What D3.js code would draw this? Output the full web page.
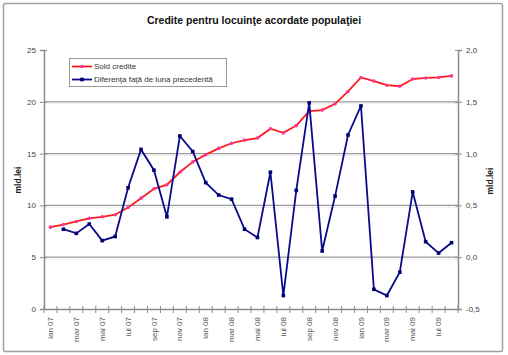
<!DOCTYPE html>
<html><head><meta charset="utf-8">
<script src="https://cdn.jsdelivr.net/npm/d3@7"></script>
<style>
html,body{margin:0;padding:0;background:#fff;}
svg{display:block;font-family:"Liberation Sans",Arial,sans-serif;}
</style></head>
<body>
<svg id="chart" width="508" height="355"></svg>
<script>
const title = "Credite pentru locuinţe acordate populaţiei";
const categories = ["ian 07","feb 07","mar 07","apr 07","mai 07","iun 07","iul 07","aug 07","sep 07","oct 07","nov 07","dec 07",
  "ian 08","feb 08","mar 08","apr 08","mai 08","iun 08","iul 08","aug 08","sep 08","oct 08","nov 08","dec 08",
  "ian 09","feb 09","mar 09","apr 09","mai 09","iun 09","iul 09","aug 09"];
const tickLabels = ["ian 07","mar 07","mai 07","iul 07","sep 07","nov 07","ian 08","mar 08","mai 08","iul 08","sep 08","nov 08","ian 09","mar 09","mai 09","iul 09"];
const soldCredite = [7.9,8.15,8.45,8.75,8.9,9.1,9.8,10.7,11.6,12.0,13.2,14.2,14.9,15.5,16.0,16.3,16.5,17.4,17.0,17.7,19.1,19.2,19.8,21.0,22.35,22.0,21.6,21.5,22.2,22.3,22.35,22.5];
const diferenta = [null,0.27,0.23,0.32,0.16,0.20,0.67,1.04,0.84,0.39,1.17,1.02,0.72,0.60,0.56,0.27,0.19,0.82,-0.37,0.645,1.49,0.06,0.59,1.18,1.46,-0.31,-0.37,-0.145,0.63,0.15,0.04,0.14];
const leftTicks = [0,5,10,15,20,25];
const rightTicks = [-0.5,0,0.5,1.0,1.5,2.0];
const seriesNames = ["Sold credite","Diferenţa faţă de luna precedentă"];
const axisTitle = "mld.lei";

const svg = d3.select("#chart");
const L = 44, R = 458, T = 50, B = 309;
const grey = "#8c8c8c";

// outer frame
svg.append("rect").attr("x",3.5).attr("y",3.5).attr("width",499).attr("height",348)
  .attr("rx",2).attr("fill","#fff").attr("stroke","#a0a0a0").attr("stroke-width",1.5);

svg.append("text").attr("x",254).attr("y",24).attr("text-anchor","middle")
  .attr("font-size",10.5).attr("font-weight","bold").attr("fill","#111").text(title);

const x = d3.scaleBand().domain(categories).range([L,R]).padding(0);
const yL = d3.scaleLinear().domain([0,25]).range([B,T]);
const yR = d3.scaleLinear().domain([-0.5,2.0]).range([B,T]);

// gridlines
svg.append("g").selectAll("line").data(leftTicks.filter(d=>d>0 && d<25)).join("line")
  .attr("x1",L).attr("x2",R).attr("y1",d=>yL(d)).attr("y2",d=>yL(d))
  .attr("stroke","#9a9a9a").attr("stroke-width",1.2);
svg.append("g").selectAll("line").data(leftTicks.filter(d=>d>0 && d<25)).join("line")
  .attr("x1",L).attr("x2",R).attr("y1",d=>yL(d)+2).attr("y2",d=>yL(d)+2)
  .attr("stroke","#dcdcdc").attr("stroke-width",1).attr("stroke-dasharray","1,1");

// left axis
const gl = svg.append("g").attr("transform",`translate(${L},0)`)
  .call(d3.axisLeft(yL).tickValues(leftTicks).tickSize(4).tickPadding(4));
gl.select(".domain").attr("stroke",grey).attr("stroke-width",1.5);
gl.selectAll(".tick line").attr("x1",3).attr("x2",-4).attr("stroke",grey);
gl.selectAll(".tick text").attr("font-size",8).attr("fill","#444").attr("font-family","Liberation Sans, Arial, sans-serif");

// right axis
const gr = svg.append("g").attr("transform",`translate(${R},0)`)
  .call(d3.axisRight(yR).tickValues(rightTicks).tickSize(4).tickPadding(4)
    .tickFormat(d=>d3.format(".1f")(d).replace(".",",").replace("−","-")));
gr.select(".domain").attr("stroke",grey).attr("stroke-width",1.5);
gr.selectAll(".tick line").attr("x1",-3).attr("x2",4).attr("stroke",grey);
gr.selectAll(".tick text").attr("font-size",8).attr("fill","#444").attr("font-family","Liberation Sans, Arial, sans-serif");

// bottom axis
const gb = svg.append("g").attr("transform",`translate(0,${B})`)
  .call(d3.axisBottom(x).tickValues(tickLabels).tickSize(0).tickPadding(0));
gb.select(".domain").attr("stroke",grey).attr("stroke-width",1.5);
gb.selectAll(".tick text").attr("font-size",8).attr("fill","#555")
  .attr("font-family","Liberation Sans, Arial, sans-serif")
  .attr("transform","translate(0,8) rotate(-90)").attr("text-anchor","end")
  .attr("dy","0.32em").attr("x",0).attr("y",0);
const bounds = categories.map(c=>x(c)).concat([x.range()[1]]);
svg.append("g").selectAll("line").data(bounds).join("line")
  .attr("x1",d=>d).attr("x2",d=>d).attr("y1",B-3).attr("y2",B+4)
  .attr("stroke",grey).attr("stroke-width",1);

// axis titles
svg.append("text").attr("transform",`translate(21,180) rotate(-90)`).attr("text-anchor","middle")
  .attr("font-size",8.5).attr("font-weight","bold").attr("fill","#222").text(axisTitle);
svg.append("text").attr("transform",`translate(493,181) rotate(-90)`).attr("text-anchor","middle")
  .attr("font-size",8.5).attr("font-weight","bold").attr("fill","#222").text(axisTitle);

const cx = c => x(c) + x.bandwidth()/2;

// red series
const redData = categories.map((c,i)=>({c, v: soldCredite[i]}));
svg.append("path").datum(redData)
  .attr("d", d3.line().x(d=>cx(d.c)).y(d=>yL(d.v)))
  .attr("fill","none").attr("stroke","#ff1a1a").attr("stroke-width",1.8);
svg.append("g").selectAll("circle").data(redData).join("circle")
  .attr("cx",d=>cx(d.c)).attr("cy",d=>yL(d.v)).attr("r",1.8).attr("fill","#ff3399");

// blue series
const blueData = categories.map((c,i)=>({c, v: diferenta[i]})).filter(d=>d.v!==null);
svg.append("path").datum(blueData)
  .attr("d", d3.line().x(d=>cx(d.c)).y(d=>yR(d.v)))
  .attr("fill","none").attr("stroke","#0a0a8c").attr("stroke-width",1.8);
svg.append("g").selectAll("rect").data(blueData).join("rect")
  .attr("x",d=>cx(d.c)-1.8).attr("y",d=>yR(d.v)-1.8).attr("width",3.6).attr("height",3.6)
  .attr("fill","#000070");

// legend
const lg = svg.append("g");
lg.append("rect").attr("x",69.5).attr("y",58.5).attr("width",157).attr("height",28)
  .attr("fill","#fff").attr("stroke","#9a9a9a").attr("stroke-width",1);
const legendItems = [{name:seriesNames[0], color:"#ff1a1a", mk:"#ff3399", y:66.5, circle:true},
                     {name:seriesNames[1], color:"#0a0a8c", mk:"#000070", y:79.5, circle:false}];
legendItems.forEach(it=>{
  lg.append("line").attr("x1",72).attr("x2",92).attr("y1",it.y).attr("y2",it.y)
    .attr("stroke",it.color).attr("stroke-width",1.8);
  if (it.circle) {
    lg.append("circle").attr("cx",82).attr("cy",it.y).attr("r",1.8).attr("fill",it.mk);
  } else {
    lg.append("rect").attr("x",80.2).attr("y",it.y-1.8).attr("width",3.6).attr("height",3.6).attr("fill",it.mk);
  }
  lg.append("text").attr("x",94).attr("y",it.y).attr("dy","0.35em")
    .attr("font-size",8).attr("fill","#333").text(it.name);
});
</script>
</body></html>
